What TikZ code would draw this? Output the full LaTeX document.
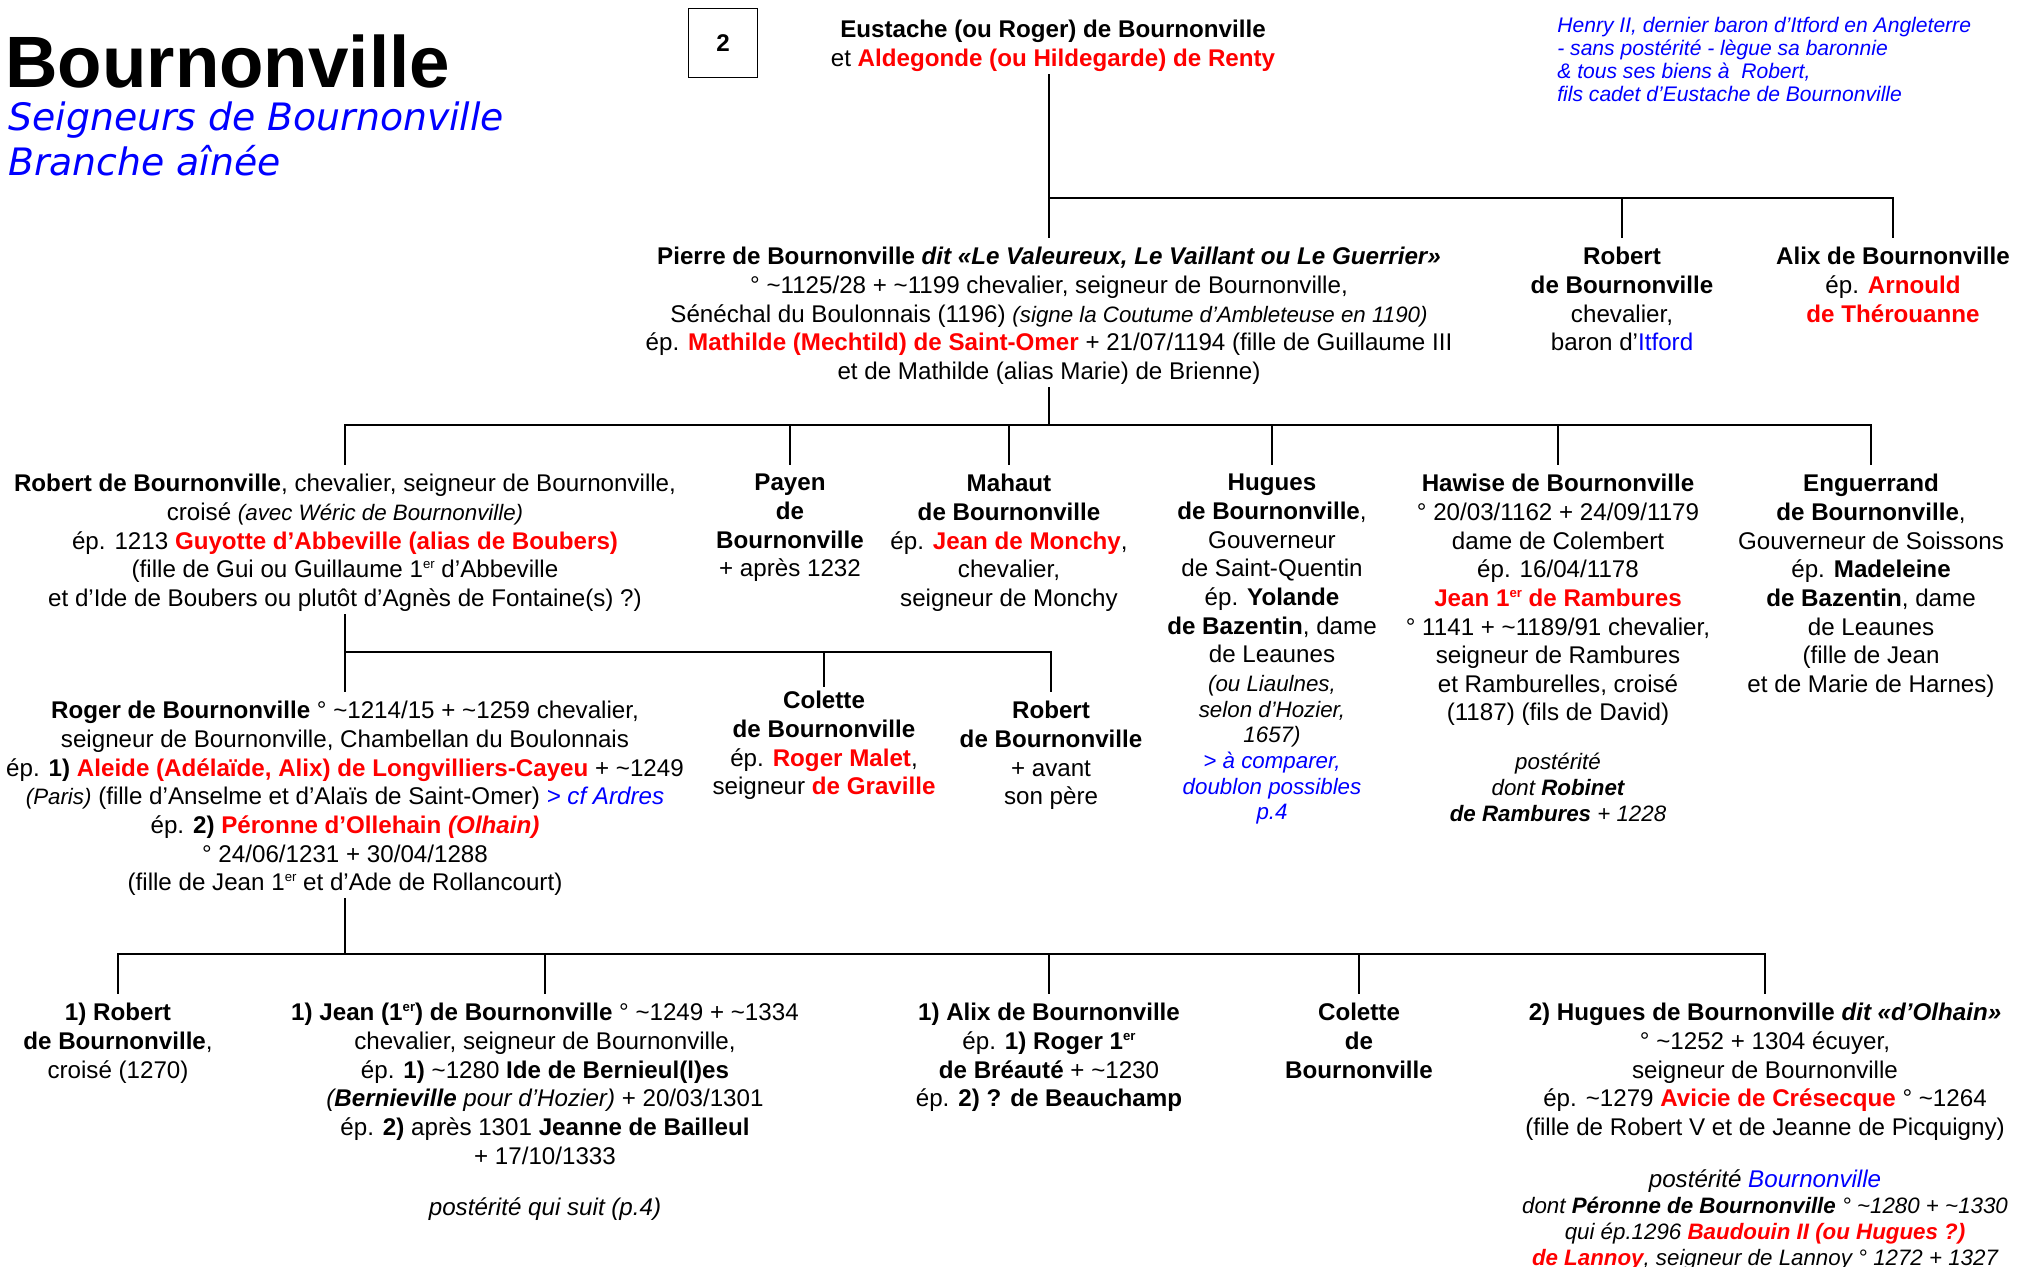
\documentclass[tikz,border=0pt]{standalone}
\usepackage{fontspec}
\setmainfont{Liberation Sans}
\newfontfamily\subfont{DejaVu Sans}
\usepackage{tikz}
\definecolor{wifered}{RGB}{255,0,0}
\definecolor{linkblue}{RGB}{0,0,255}
\newcommand{\mainsize}{\fontsize{13.75}{16.3}\selectfont}
\newcommand{\smallsize}{\fontsize{12.7}{14.6}\selectfont}
\newcommand{\wed}[1]{\textcolor{wifered}{\textbf{#1}}}
\newcommand{\lnk}[1]{\textcolor{linkblue}{#1}}
\newcommand{\ier}{\raisebox{0.7ex}{\fontsize{7.5}{8}\selectfont er}}
\newcommand{\circa}{\textasciitilde}

\begin{document}
\begin{tikzpicture}[
    x=0.02cm, y=-0.02cm,
    font=\mainsize,
    person/.style={anchor=north, align=center, inner sep=0pt, yshift=-0.06cm,
      execute at begin node=\strut, execute at end node=\strut},
    small/.style={person, font=\smallsize\itshape},
    tree/.style={line width=1.4pt, line cap=rect},
    tick/.style={tree, shorten >=2mm}]

  \path[use as bounding box, fill=white] (0,0) rectangle (2018,1267);

  % ---- header -----------------------------------------------------------
  \node[anchor=base west, inner sep=0pt, font=\fontsize{41.4}{44}\selectfont\bfseries] (title) at (5,88) {Bournonville};
  \node[person, anchor=north west, align=left, text=linkblue,
        font=\subfont\fontsize{21.5}{25.8}\selectfont\itshape] (subtitle) at (8,98) {Seigneurs de Bournonville\\Branche aînée};
  \node[draw, line width=0.8pt, minimum width=1.38cm, minimum height=1.38cm, font=\mainsize\bfseries] (page) at (723,43) {2};
  \node[person, anchor=north west, align=left, text=linkblue,
        font=\fontsize{12}{13}\selectfont\itshape] (henry) at (1557,14) {Henry II, dernier baron d’Itford en Angleterre\\- sans postérité - lègue sa baronnie\\\& tous ses biens à~ Robert,\\fils cadet d’Eustache de Bournonville};

  \node[person] (eustache) at (1053,17) {\textbf{Eustache (ou Roger) de Bournonville}\\et \wed{Aldegonde (ou Hildegarde) de Renty}};

  % ---- generation 1 -----------------------------------------------------
  \node[person] (pierre) at (1049,244) {\textbf{Pierre de Bournonville \textit{dit «Le Valeureux, Le Vaillant ou Le Guerrier»}}\\
    ° \circa1125/28 + \circa1199 chevalier, seigneur de Bournonville,\\
    Sénéchal du Boulonnais (1196) {\smallsize\itshape (signe la Coutume d’Ambleteuse en 1190)}\\
    ép. \wed{Mathilde (Mechtild) de Saint-Omer} + 21/07/1194 (fille de Guillaume III\\
    et de Mathilde (alias Marie) de Brienne)};
  \node[person] (robit) at (1622,244) {\textbf{Robert}\\\textbf{de Bournonville}\\chevalier,\\baron d’\lnk{Itford}};
  \node[person] (alix)  at (1893,244) {\textbf{Alix de Bournonville}\\ép. \wed{Arnould}\\\wed{de Thérouanne}};

  \coordinate (bus1) at (1049,198);
  \draw[tick] (pierre.north |- eustache.south) -- (pierre.north);
  \draw[tick] (bus1) -| (alix.north);
  \draw[tick] (bus1 -| robit.north) -- (robit.north);

  % ---- generation 2 -----------------------------------------------------
  \node[person] (robert) at (345,471) {\textbf{Robert de Bournonville}, chevalier, seigneur de Bournonville,\\
    croisé {\smallsize\itshape (avec Wéric de Bournonville)}\\
    ép. 1213 \wed{Guyotte d’Abbeville (alias de Boubers)}\\
    (fille de Gui ou Guillaume 1\ier{} d’Abbeville\\
    et d’Ide de Boubers ou plutôt d’Agnès de Fontaine(s) ?)};
  \node[person] (payen)  at (790,471)  {\textbf{Payen}\\\textbf{de}\\\textbf{Bournonville}\\+ après 1232};
  \node[person] (mahaut) at (1009,471) {\textbf{Mahaut}\\\textbf{de Bournonville}\\ép. \wed{Jean de Monchy},\\chevalier,\\seigneur de Monchy};
  \node[person] (hugues) at (1272,471) {\textbf{Hugues}\\\textbf{de Bournonville},\\Gouverneur\\de Saint-Quentin\\ép. \textbf{Yolande}\\\textbf{de Bazentin}, dame\\de Leaunes};
  \node[small]  (hugnote) at (1272,672) {(ou Liaulnes,\\selon d’Hozier,\\1657)\\\lnk{> à comparer,}\\\lnk{doublon possibles}\\\lnk{p.4}};
  \node[person] (hawise) at (1558,471) {\textbf{Hawise de Bournonville}\\° 20/03/1162 + 24/09/1179\\dame de Colembert\\ép. 16/04/1178\\\wed{Jean 1\ier{} de Rambures}\\
    ° 1141 + \circa1189/91 chevalier,\\seigneur de Rambures\\et Ramburelles, croisé\\(1187) (fils de David)};
  \node[small]  (hawpost) at (1558,750) {postérité\\dont \textbf{Robinet}\\\textbf{de Rambures} + 1228};
  \node[person] (enguerrand) at (1871,471) {\textbf{Enguerrand}\\\textbf{de Bournonville},\\Gouverneur de Soissons\\ép. \textbf{Madeleine}\\\textbf{de Bazentin}, dame\\de Leaunes\\(fille de Jean\\et de Marie de Harnes)};

  \coordinate (bus2) at (1049,425);
  \draw[tree] (pierre.south) -- (bus2);
  \draw[tree] (bus2 -| robert.north) -- (bus2 -| enguerrand.north);
  \foreach \who in {robert,payen,mahaut,hugues,hawise,enguerrand}
    \draw[tick] (bus2 -| \who.north) -- (\who.north);

  % ---- generation 3 -----------------------------------------------------
  \node[person] (roger) at (345,698) {\textbf{Roger de Bournonville} ° \circa1214/15 + \circa1259 chevalier,\\
    seigneur de Bournonville, Chambellan du Boulonnais\\
    ép. \textbf{1)} \wed{Aleide (Adélaïde, Alix) de Longvilliers-Cayeu} + \circa1249\\
    {\smallsize\itshape (Paris)} (fille d’Anselme et d’Alaïs de Saint-Omer) \lnk{\itshape > cf Ardres}\\
    ép. \textbf{2)} \wed{Péronne d’Ollehain \textit{(Olhain)}}\\
    ° 24/06/1231 + 30/04/1288\\
    (fille de Jean 1\ier{} et d’Ade de Rollancourt)};
  \node[person] (colette) at (824,688)  {\textbf{Colette}\\\textbf{de Bournonville}\\ép. \wed{Roger Malet},\\seigneur \wed{de Graville}};
  \node[person] (robson)  at (1051,698) {\textbf{Robert}\\\textbf{de Bournonville}\\+ avant\\son père};

  \coordinate (bus3) at (345,652);
  \draw[tick] (robert.south) -- (robert.south |- roger.north);
  \draw[tree] (bus3) -- (bus3 -| robson.north);
  \draw[tree, shorten >=1mm] (bus3 -| colette.north) -- (colette.north);
  \draw[tick] (bus3 -| robson.north) -- (robson.north);

  % ---- generation 4 -----------------------------------------------------
  \node[person] (rob1) at (118,1000) {\textbf{1) Robert}\\\textbf{de Bournonville},\\croisé (1270)};
  \node[person] (jean) at (545,1000) {\textbf{1) Jean (1\ier) de Bournonville} ° \circa1249 + \circa1334\\
    chevalier, seigneur de Bournonville,\\
    ép. \textbf{1)} \circa1280 \textbf{Ide de Bernieul(l)es}\\
    \textit{(\textbf{Bernieville} pour d’Hozier)} + 20/03/1301\\
    ép. \textbf{2)} après 1301 \textbf{Jeanne de Bailleul}\\
    + 17/10/1333};
  \node[person] (jeanpost) at (545,1192) {\textit{postérité qui suit (p.4)}};
  \node[person] (alix2) at (1049,1000) {\textbf{1) Alix de Bournonville}\\ép. \textbf{1) Roger 1\ier}\\\textbf{de Bréauté} + \circa1230\\ép. \textbf{2) ? de Beauchamp}};
  \node[person] (colette2) at (1359,1000) {\textbf{Colette}\\\textbf{de}\\\textbf{Bournonville}};
  \node[person] (hugues2) at (1765,1000) {\textbf{2) Hugues de Bournonville \textit{dit «d’Olhain»}}\\
    ° \circa1252 + 1304 écuyer,\\
    seigneur de Bournonville\\
    ép. \circa1279 \wed{Avicie de Crésecque} ° \circa1264\\
    (fille de Robert V et de Jeanne de Picquigny)};
  \node[person] (hugpost) at (1765,1164) {\textit{postérité \lnk{Bournonville}}};
  \node[small]  (hugdesc) at (1765,1194) {dont \textbf{Péronne de Bournonville} ° \circa1280 + \circa1330\\
    qui ép.1296 \wed{Baudouin II (ou Hugues ?)}\\
    \wed{de Lannoy}, seigneur de Lannoy ° 1272 + 1327};

  \coordinate (bus4) at (345,954);
  \draw[tree] (roger.south) -- (roger.south |- bus4);
  \draw[tree] (bus4 -| rob1.north) -- (bus4 -| hugues2.north);
  \foreach \who in {rob1,jean,alix2,colette2,hugues2}
    \draw[tick] (bus4 -| \who.north) -- (\who.north);
\end{tikzpicture}
\end{document}
